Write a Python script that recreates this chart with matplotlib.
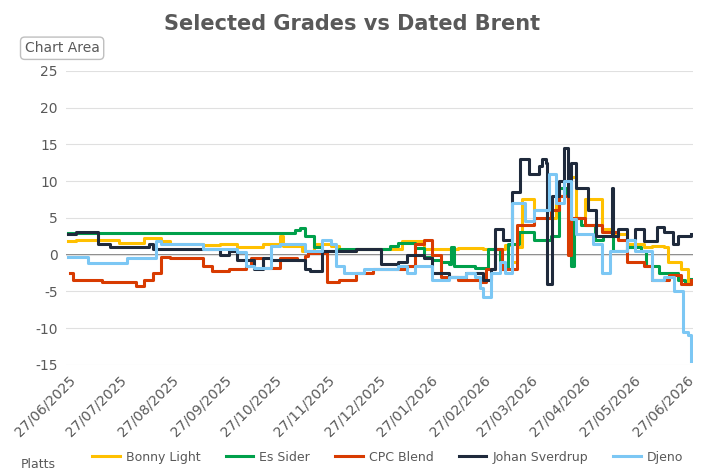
import matplotlib.pyplot as plt
import matplotlib.dates as mdates
import numpy as np
import pandas as pd

plt.rcParams["axes.unicode_minus"] = False

start = pd.Timestamp("2025-06-27")

# breakpoints (day offset from 27/06/2025, value) - values held until next point
series = {
    "Bonny Light": ("#FFC000", [(0, 1.8), (5, 2.0), (30, 1.6), (45, 2.2), (55, 1.8), (60, 1.5), (80, 1.3), (90, 1.5),
                                (100, 1.0), (115, 1.5), (125, 2.5), (127, 1.2), (138, 0.5), (145, 1.5), (155, 1.2),
                                (160, 0.5), (170, 0.8), (197, 1.8), (210, 0.8), (230, 0.9), (245, 0.7), (258, 1.3),
                                (262, -1), (265, 1), (268, 7.5), (275, 6), (285, 5), (288, 8), (295, 10.5), (300, 5),
                                (305, 7.5), (315, 3.5), (322, 2.8), (330, 1.5), (340, 1), (345, 1.2), (352, 1),
                                (354, -1), (362, -2), (366, -4), (368, -3.5)]),
    "Es Sider": ("#00A04B", [(0, 2.9), (132, 2.9), (134, 3.3), (137, 3.6), (140, 2.5), (145, 1.0), (150, 0.5),
                             (160, 0.8), (190, 1.2), (195, 1.6), (205, 0.9), (210, -0.3), (215, -0.8), (220, -1.0),
                             (225, -1.3), (226, 1.0), (228, -1.5), (240, -1.8), (248, 0.8), (255, -2), (260, 1.5),
                             (266, 3), (275, 2), (285, 2.5), (290, 9), (294, 8), (297, -1.5), (299, 5), (303, 4),
                             (311, 2), (316, 2.5), (322, 0.5), (330, 1), (338, 0.5), (341, -1.5), (349, -2.5),
                             (360, -3.5), (364, -4), (368, -3.3)]),
    "CPC Blend": ("#D83B01", [(1, -2.5), (3, -3.5), (20, -3.8), (40, -4.3), (45, -3.5), (50, -2.5), (55, -0.3),
                              (60, -0.5), (80, -1.5), (85, -2.2), (95, -2), (105, -1.5), (108, -0.5), (115, -1.8),
                              (125, -0.5), (135, -0.8), (140, -0.2), (142, 0.2), (153, -3.8), (160, -3.5),
                              (170, -2.5), (180, -2), (200, -1.5), (205, 1.5), (210, 2), (215, 0), (220, -3),
                              (230, -3.5), (243, -3.7), (247, -2), (252, 0.8), (256, -2), (265, 4), (275, 5),
                              (285, 6), (290, 8), (295, 0), (297, 5), (305, 4), (315, 3), (325, 2), (330, -1),
                              (340, -1.5), (345, -3.5), (355, -2.8), (362, -4), (368, -3.5)]),
    "Johan Sverdrup": ("#1F2A3C", [(0, 2.8), (5, 3.0), (15, 3.0), (18, 1.5), (25, 1.0), (45, 1.0), (48, 1.5),
                                   (50, 0.7), (55, 0.8), (85, 0.8), (90, 0), (95, 0.5), (100, -0.7), (110, -2),
                                   (115, -0.5), (120, -0.8), (135, -0.8), (140, -2), (143, -2.3), (150, 0.5),
                                   (170, 0.8), (180, 0.8), (185, -1.3), (195, -1), (200, 0), (210, -0.5),
                                   (215, -2.5), (225, -3), (235, -2.5), (245, -3.5), (250, -2), (252, 3.5),
                                   (257, 2), (262, 8.5), (267, 13), (272, 11), (278, 12), (280, 13), (282, 12.5),
                                   (283, -4), (286, 8), (290, 10), (293, 14.5), (295, 8), (297, 12.5), (300, 9),
                                   (307, 6), (312, 2.5), (320, 2.5), (321, 9), (322, 2.5), (325, 3.5), (330, 2),
                                   (335, 3.5), (340, 1.8), (348, 3.8), (352, 3), (357, 1.5), (360, 2.5), (368, 2.8)]),
    "Djeno": ("#7CC7F4", [(0, -0.3), (12, -1.2), (30, -1.2), (35, -0.5), (50, -0.5), (52, 1.8), (55, 1.4),
                          (75, 1.4), (80, 0.8), (95, 0.8), (100, 0.3), (105, -1.5), (110, -1.8), (120, 1.2),
                          (125, 1.5), (135, 1.5), (140, 0.5), (150, 2), (155, 1.5), (158, -1.5), (163, -2.5),
                          (175, -2), (195, -1.5), (200, -2.5), (205, -1.5), (215, -3.5), (225, -3), (235, -2.5),
                          (240, -3), (243, -4.5), (245, -5.8), (250, -2.5), (255, -1), (258, -2.5), (262, 7),
                          (270, 4.5), (275, 6), (284, 11), (288, 7), (293, 10), (297, 4.8), (300, 2.8),
                          (310, 1.5), (315, -2.5), (320, 0.5), (330, 2), (335, 0.5), (345, -3.5), (352, -3),
                          (358, -5), (363, -10.5), (366, -11), (368, -14.5)]),
}

fig = plt.figure(figsize=(7.05, 4.75), dpi=100)
ax = fig.add_axes([0.094, 0.232, 0.889, 0.619])

for name, (color, pts) in series.items():
    d = [start + pd.Timedelta(days=p[0]) for p in pts]
    v = [p[1] for p in pts]
    ax.plot(d, v, color=color, lw=2.2, drawstyle="steps-post", label=name)

ax.axhline(0, color="#7f7f7f", lw=1.3, zorder=0)
ax.set_ylim(-15, 25)
ax.set_yticks(range(-15, 26, 5))
ax.set_xlim(start - pd.Timedelta(days=1), start + pd.Timedelta(days=369))
ticks = [start + pd.DateOffset(months=i) for i in range(13)]
ax.set_xticks(ticks)
ax.xaxis.set_major_formatter(mdates.DateFormatter("%d/%m/%Y"))
plt.setp(ax.get_xticklabels(), rotation=45, ha="right", rotation_mode="anchor", fontsize=10)
ax.tick_params(axis="y", labelsize=10)
ax.tick_params(colors="#595959", length=0, pad=6)
ax.grid(axis="y", color="#e0e0e0", lw=0.8)
for s in ax.spines.values():
    s.set_visible(False)

fig.suptitle("Selected Grades vs Dated Brent", fontsize=15, fontweight="bold", color="#595959", y=0.97)
fig.text(0.035, 0.89, "Chart Area", fontsize=10, color="#595959",
         bbox=dict(boxstyle="round,pad=0.3", fc="white", ec="#bfbfbf"))
fig.text(0.03, 0.015, "Platts", fontsize=9, color="#595959")
fig.legend(loc="lower center", ncol=5, frameon=False, bbox_to_anchor=(0.55, 0.0),
           fontsize=9, handlelength=2.2, columnspacing=2.0, handletextpad=0.5, labelcolor="#595959")

fig.savefig("out.png")
